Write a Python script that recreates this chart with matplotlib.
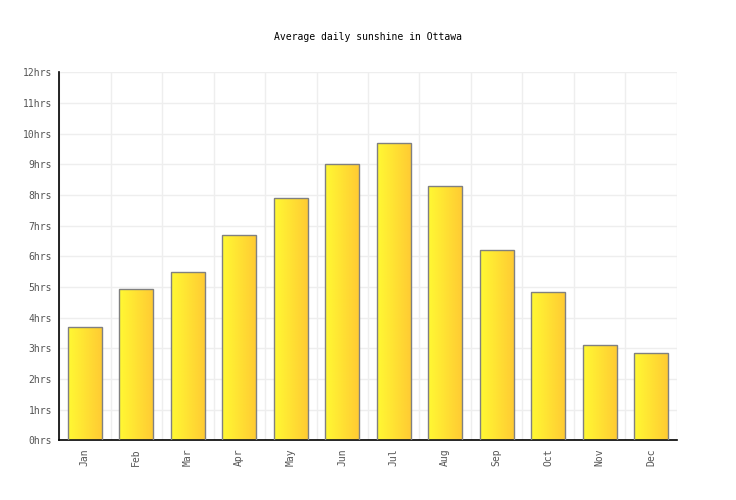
import numpy as np
import matplotlib.pyplot as plt
from matplotlib.colors import LinearSegmentedColormap

# --- Data ---
months = ["Jan", "Feb", "Mar", "Apr", "May", "Jun",
          "Jul", "Aug", "Sep", "Oct", "Nov", "Dec"]
sunshine = [3.7, 4.95, 5.5, 6.7, 7.9, 9.0, 9.7, 8.3, 6.2, 4.85, 3.1, 2.85]
ytick_vals = list(range(0, 13))
ytick_labels = [f"{v}hrs" for v in ytick_vals]

# --- Style ---
font = "DejaVu Sans Mono"
grad = LinearSegmentedColormap.from_list("sun", ["#fff933", "#ffcb33"])

fig = plt.figure(figsize=(7.36, 5), dpi=100)
ax = fig.add_axes([0.0802, 0.1194, 0.8396, 0.736])

x = np.arange(len(months))
bars = ax.bar(x, sunshine, width=0.66, facecolor="none",
              edgecolor="#808080", linewidth=1.0, zorder=3)

# horizontal gradient fill for each bar, clipped to the bar shape
gradient = np.linspace(0, 1, 256).reshape(1, -1)
for b in bars:
    bx, bw, bh = b.get_x(), b.get_width(), b.get_height()
    im = ax.imshow(gradient, cmap=grad, aspect="auto",
                   extent=(bx, bx + bw, 0, bh), zorder=2, interpolation="bilinear")
    im.set_clip_path(b)

ax.set_xlim(-0.5, len(months) - 0.5)
ax.set_ylim(0, 12)

ax.set_xticks(x)
ax.set_xticklabels(months, rotation=90, fontfamily=font, fontsize=7, color="#555555")
ax.set_xticks(np.arange(-0.5, len(months), 1), minor=True)
ax.set_yticks(ytick_vals)
ax.set_yticklabels(ytick_labels, fontfamily=font, fontsize=7, color="#555555")

ax.tick_params(axis="both", which="both", length=0)
ax.tick_params(axis="x", pad=6)
ax.tick_params(axis="y", pad=5)

ax.grid(True, axis="y", which="major", color="#eeeeee", linewidth=1, zorder=0)
ax.grid(True, axis="x", which="minor", color="#eeeeee", linewidth=1, zorder=0)
ax.grid(False, axis="x", which="major")
ax.set_axisbelow(True)

for side in ["top", "right"]:
    ax.spines[side].set_visible(False)
for side in ["left", "bottom"]:
    ax.spines[side].set_color("black")
    ax.spines[side].set_linewidth(1.2)

fig.text(0.5, 0.926, "Average daily sunshine in Ottawa", ha="center", va="center",
         fontfamily=font, fontsize=7, color="black")

fig.savefig("out.png", dpi=100)
